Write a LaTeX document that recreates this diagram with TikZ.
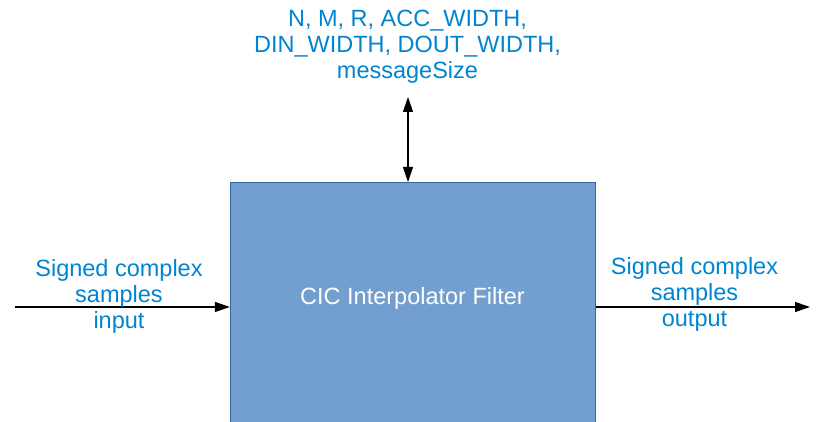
\documentclass[tikz,border=0pt]{standalone}
\usepackage{fontspec}
\setmainfont{Liberation Sans}
\usetikzlibrary{arrows.meta,calc}
\definecolor{boxfill}{HTML}{729FCF}
\definecolor{boxline}{HTML}{3465A4}
\definecolor{labelblue}{HTML}{0084D1}
\tikzset{
  blockbox/.style={draw=boxline, fill=boxfill, line width=1.3pt, minimum width=365pt, minimum height=250pt, inner sep=0pt, anchor=north},
  blocktext/.style={text=white, font=\fontsize{23.5}{26}\selectfont, inner sep=0pt, anchor=base},
  sidelabel/.style={text=labelblue, font=\fontsize{23.5}{26}\selectfont, align=center, inner sep=0pt},
  conn/.style={line width=1.1pt, -{Triangle[length=15pt,width=10pt]}},
  bothconn/.style={line width=1.1pt, {Triangle[length=15pt,width=10pt]}-{Triangle[length=15pt,width=10pt]}}
}
\begin{document}
\begin{tikzpicture}[x=1pt,y=1pt]
\useasboundingbox (0,0) rectangle (821,422);
\node[blockbox] (box) at (413,240) {};
\node[blocktext] (boxlabel) at (412.5,117) {CIC Interpolator Filter};
\coordinate (in) at (15,115);
\coordinate (out) at (810,115);
\coordinate (par) at (408,325);
\draw[conn] (in) -- (in -| box.west);
\draw[conn] (out -| box.east) -- (out);
\draw[bothconn] (par) -- (par |- box.north);
\node[sidelabel] (inlabel) at (119,126) {Signed complex\\samples\\input};
\node[sidelabel] (outlabel) at (694.5,128) {Signed complex\\samples\\output};
\node[sidelabel] (params) at (407.5,375) {N, M, R, ACC\_WIDTH,\\DIN\_WIDTH, DOUT\_WIDTH,\\messageSize};
\end{tikzpicture}
\end{document}
